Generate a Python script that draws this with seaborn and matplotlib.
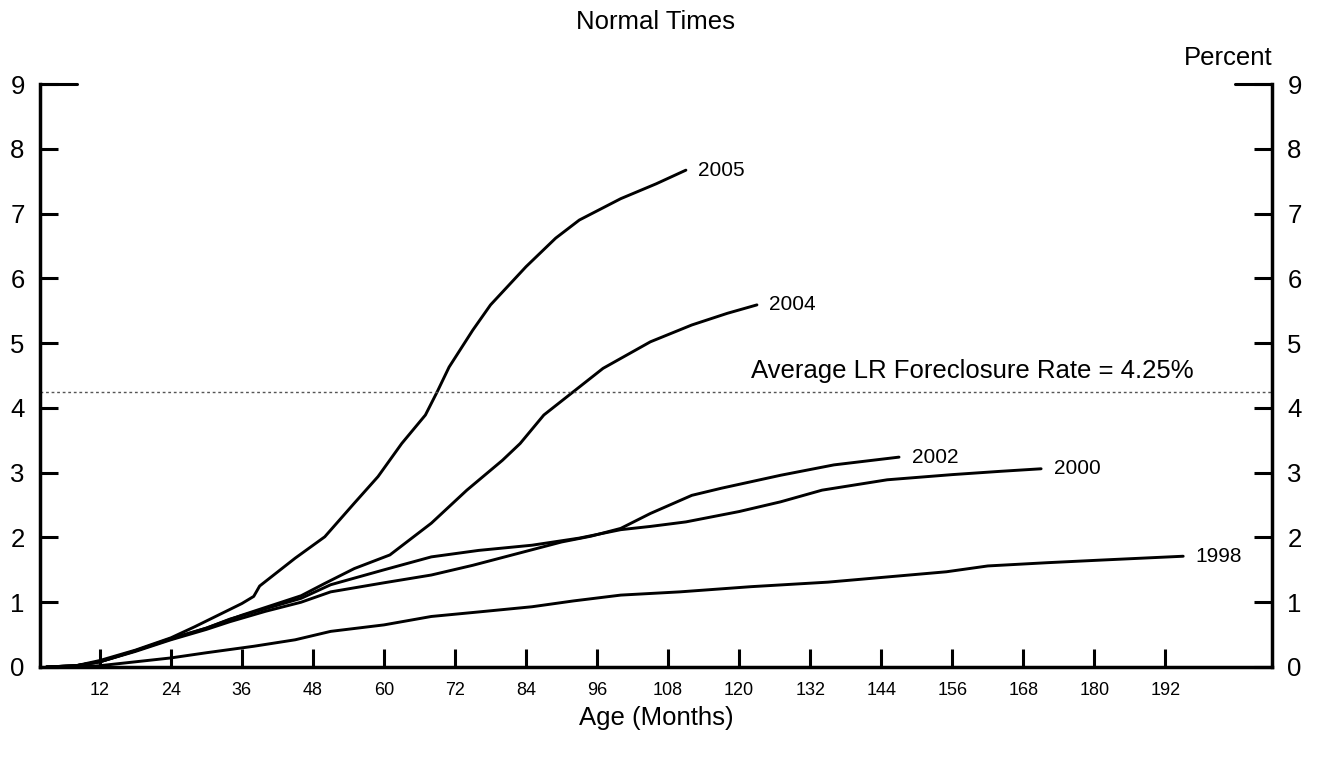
import seaborn as sns
import matplotlib.pyplot as plt
import pandas as pd

# Cumulative foreclosure rate by age, one cohort per origination year
months_2005 = [3, 8, 12, 18, 24, 28, 32, 36, 38, 39, 45, 50, 55, 59, 63, 67, 69, 71, 75, 78, 84, 89, 93, 100, 106, 111]
rate_2005 = [0, 0.02, 0.1, 0.26, 0.45, 0.62, 0.8, 0.98, 1.09, 1.25, 1.68, 2.01, 2.53, 2.94, 3.45, 3.89, 4.25, 4.63, 5.2, 5.59, 6.18, 6.62, 6.9, 7.23, 7.46, 7.67]

months_2004 = [3, 8, 12, 18, 24, 30, 36, 42, 46, 50, 55, 61, 68, 74, 80, 83, 87, 92, 97, 105, 112, 118, 123]
rate_2004 = [0, 0.02, 0.08, 0.25, 0.44, 0.6, 0.8, 0.98, 1.1, 1.29, 1.52, 1.73, 2.22, 2.73, 3.19, 3.45, 3.89, 4.25, 4.61, 5.02, 5.28, 5.46, 5.59]

months_2002 = [3, 8, 12, 18, 24, 30, 34, 40, 46, 51, 60, 68, 75, 85, 90, 95, 100, 105, 112, 117, 127, 136, 147]
rate_2002 = [0, 0.02, 0.08, 0.24, 0.42, 0.58, 0.70, 0.86, 1.0, 1.16, 1.3, 1.42, 1.57, 1.81, 1.93, 2.02, 2.14, 2.37, 2.65, 2.76, 2.96, 3.12, 3.24]

months_2000 = [3, 8, 12, 18, 24, 30, 34, 40, 46, 51, 60, 68, 76, 85, 93, 100, 105, 111, 120, 127, 134, 145, 156, 164, 171]
rate_2000 = [0, 0.02, 0.08, 0.25, 0.43, 0.6, 0.74, 0.9, 1.06, 1.27, 1.5, 1.70, 1.8, 1.88, 1.99, 2.12, 2.17, 2.24, 2.40, 2.55, 2.73, 2.89, 2.97, 3.02, 3.06]

months_1998 = [4, 8, 12, 18, 24, 30, 38, 45, 51, 60, 68, 76, 85, 92, 100, 110, 122, 135, 145, 155, 162, 172, 181, 188, 195]
rate_1998 = [0, 0, 0.02, 0.08, 0.14, 0.22, 0.32, 0.42, 0.55, 0.65, 0.78, 0.85, 0.93, 1.02, 1.11, 1.16, 1.24, 1.31, 1.39, 1.47, 1.56, 1.61, 1.65, 1.68, 1.71]

avg_rate = 4.25
x_ticks = [12, 24, 36, 48, 60, 72, 84, 96, 108, 120, 132, 144, 156, 168, 180, 192]
y_ticks = [0, 1, 2, 3, 4, 5, 6, 7, 8, 9]

cohorts = {
    '2005': (months_2005, rate_2005),
    '2004': (months_2004, rate_2004),
    '2002': (months_2002, rate_2002),
    '2000': (months_2000, rate_2000),
    '1998': (months_1998, rate_1998),
}

frames = []
for year, (m, r) in cohorts.items():
    frames.append(pd.DataFrame({'month': m, 'rate': r, 'cohort': year}))
df = pd.concat(frames, ignore_index=True)

sns.set_style('ticks')
plt.rcParams['font.family'] = ['Liberation Sans', 'DejaVu Sans']
for key in ['text.color', 'axes.labelcolor', 'xtick.color', 'ytick.color', 'axes.edgecolor']:
    plt.rcParams[key] = 'black'

fig = plt.figure(figsize=(13.18, 7.62), dpi=100)
ax = fig.add_axes([40 / 1318, 95 / 762, 1232 / 1318, 583 / 762])

sns.lineplot(data=df, x='month', y='rate', hue='cohort', units='cohort', estimator=None,
             palette=['black'] * len(cohorts), legend=False, linewidth=2.1, ax=ax, sort=False)

# end-of-line labels
for year, (m, r) in cohorts.items():
    ax.annotate(year, xy=(m[-1], r[-1]), xytext=(9, 0), textcoords='offset points',
                ha='left', va='center', fontsize=15)

ax.axhline(avg_rate, color='#555555', linestyle=(0, (2, 2)), linewidth=1)
ax.annotate('Average LR Foreclosure Rate = %.2f%%' % avg_rate, xy=(122, avg_rate),
            xytext=(0, 6), textcoords='offset points', ha='left', va='bottom', fontsize=18.5)

ax.set_xlim(1.9, 210)
ax.set_ylim(0, 9)
ax.set_xticks(x_ticks)
ax.set_yticks(y_ticks)
ax.tick_params(axis='x', direction='in', length=13, width=2.2, labelsize=13, pad=11)
ax.tick_params(axis='y', direction='in', length=13, width=2.2, labelsize=18.5, pad=11,
               left=True, right=True, labelleft=True, labelright=True)

for side in ['left', 'right', 'bottom']:
    ax.spines[side].set_linewidth(2.5)
ax.spines['top'].set_visible(False)

# longer marks at the top of both axes
ax.plot([0, 0.03], [9, 9], transform=ax.get_yaxis_transform(), color='black', lw=2.2, clip_on=False)
ax.plot([0.97, 1], [9, 9], transform=ax.get_yaxis_transform(), color='black', lw=2.2, clip_on=False)

ax.set_ylabel('')
ax.set_xlabel('Age (Months)', fontsize=18.5, va='center')
ax.xaxis.set_label_coords(0.5, -0.0875)

ax.text(0.5, 1.0 + 62 / 583, 'Normal Times', transform=ax.transAxes, ha='center', va='center', fontsize=18.5)
ax.text(1.0, 1.0 + 26 / 583, 'Percent', transform=ax.transAxes, ha='right', va='center', fontsize=18.5)

plt.savefig('out.png', dpi=100)
